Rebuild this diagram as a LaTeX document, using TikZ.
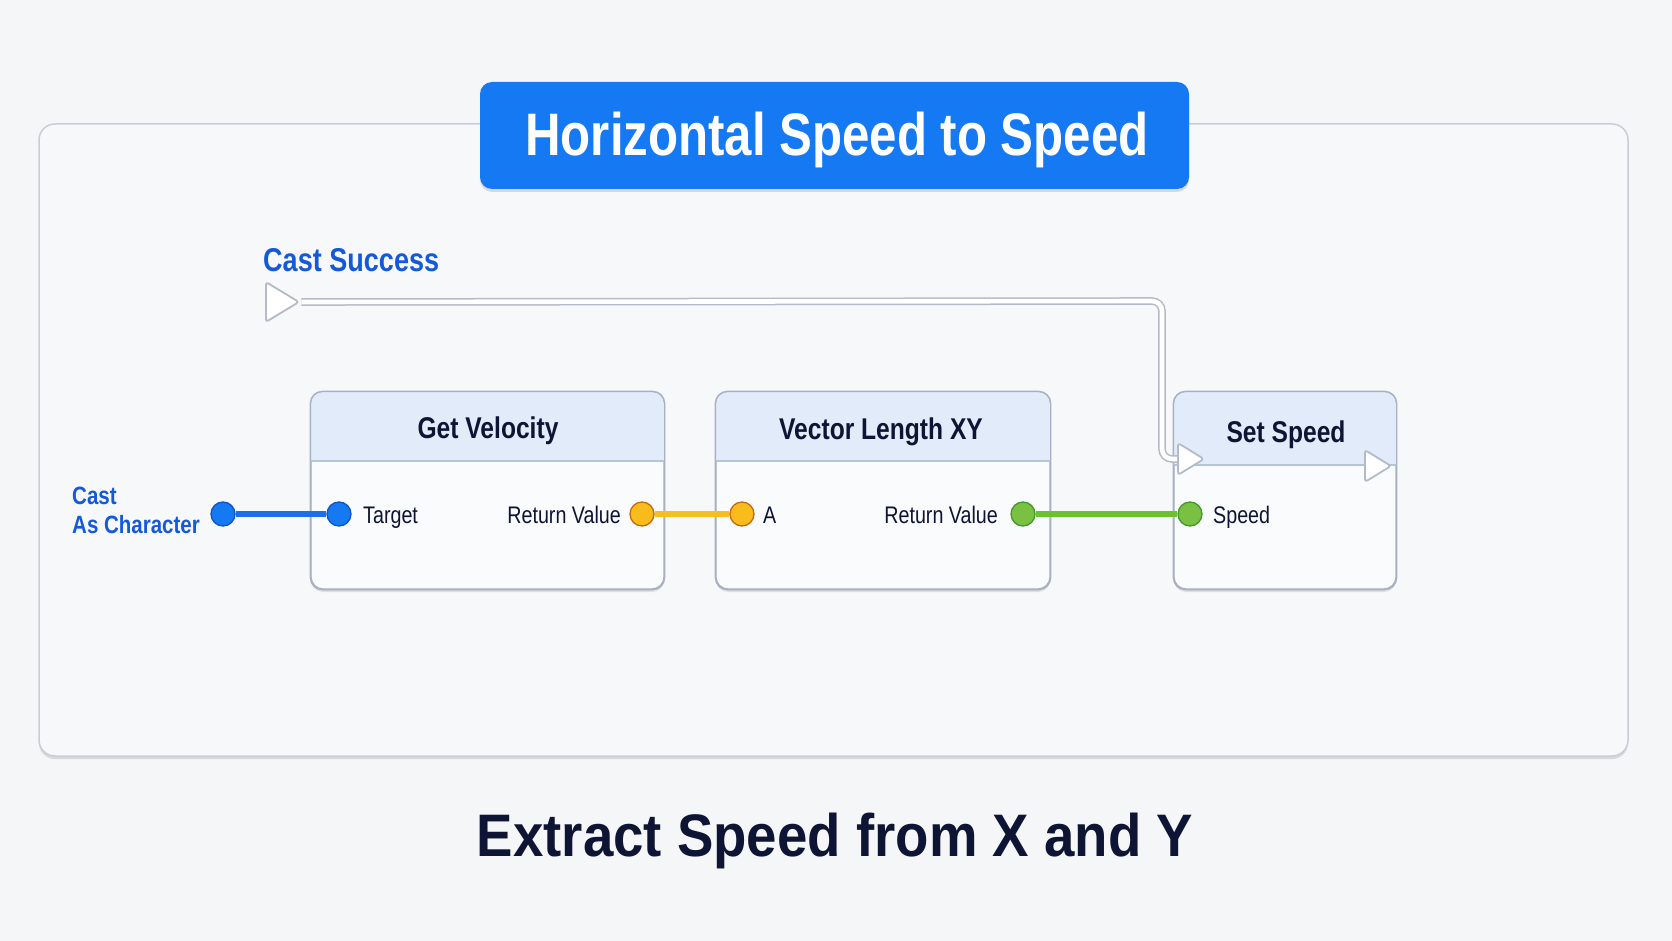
\documentclass[tikz,border=0pt]{standalone}
\usepackage{fontspec}
\setmainfont{Liberation Sans}[FakeStretch=0.82]
\newfontfamily\widefont{Liberation Sans}[FakeStretch=0.91]
\usetikzlibrary{shapes.geometric,shadows}
\definecolor{bgc}{HTML}{F5F6F8}
\definecolor{framefill}{HTML}{F7F8FA}
\definecolor{frameline}{HTML}{C9CDD6}
\definecolor{titleblue}{HTML}{1479F2}
\definecolor{labelblue}{HTML}{1559DB}
\definecolor{darktext}{HTML}{0E1433}
\definecolor{boxline}{HTML}{A7B1C2}
\definecolor{boxfill}{HTML}{FAFBFD}
\definecolor{hdrfill}{HTML}{E1EBFA}
\definecolor{sepline}{HTML}{B3C4DE}
\definecolor{bluepin}{HTML}{1479F2}
\definecolor{bluepinb}{HTML}{0E55C8}
\definecolor{bluewire}{HTML}{1C6FE6}
\definecolor{yelpin}{HTML}{F9BC1A}
\definecolor{yelpinb}{HTML}{C46A14}
\definecolor{yelwire}{HTML}{F7BE22}
\definecolor{grnpin}{HTML}{7AC143}
\definecolor{grnpinb}{HTML}{3F9A2B}
\definecolor{grnwire}{HTML}{6CC131}
\definecolor{execline}{HTML}{B4BAC7}
\pgfdeclarelayer{back}
\pgfdeclarelayer{wires}
\pgfsetlayers{back,wires,main}
\tikzset{
  softshadow/.style={drop shadow={shadow xshift=0pt, shadow yshift=-3pt, fill=black, opacity=0.10}},
  nodebox/.style={rectangle, rounded corners=12pt, fill=boxfill, draw=boxline, line width=1.3pt, softshadow, inner sep=0pt},
  boxoutline/.style={draw=boxline, line width=1.3pt, rounded corners=12pt},
  pinnode/.style={circle, minimum size=24pt, inner sep=0pt, line width=1.3pt},
  bpin/.style={pinnode, fill=bluepin, draw=bluepinb},
  ypin/.style={pinnode, fill=yelpin, draw=yelpinb},
  gpin/.style={pinnode, fill=grnpin, draw=grnpinb},
  wire/.style={line width=6pt},
  execwire/.style={draw=execline, double=white, double distance=4.6pt, line width=1.5pt, rounded corners=10pt},
  execpin/.style={isosceles triangle, isosceles triangle stretches, fill=white, draw=execline, line width=1.8pt, rounded corners=3pt, inner sep=0pt},
  hdrtext/.style={font=\fontsize{30}{34}\selectfont\bfseries, text=darktext, anchor=base, inner sep=0pt},
  pintext/.style={font=\fontsize{24}{28}\selectfont, text=darktext, inner sep=0pt},
}
\begin{document}
\begin{tikzpicture}[x=1pt,y=-1pt]
\useasboundingbox (0,0) rectangle (1672,941);
\begin{pgfonlayer}{back}
\fill[bgc] (0,0) rectangle (1672,941);
% outer frame
\node[rectangle, rounded corners=16pt, fill=framefill, draw=frameline, line width=1.5pt, minimum width=1589pt, minimum height=632pt, inner sep=0pt, drop shadow={shadow xshift=0pt, shadow yshift=-3pt, fill=black, opacity=0.12}] (frame) at (833.5,440) {};
% title
\node[rectangle, rounded corners=12pt, fill=titleblue, minimum width=709pt, minimum height=107pt, inner sep=0pt, drop shadow={shadow xshift=0pt, shadow yshift=-3pt, fill=black, opacity=0.12}] (titlebox) at (834.5,135.5) {};
% node boxes
\node[nodebox, minimum width=353pt, minimum height=197pt] (gv) at (487.5,490.5) {};
\node[nodebox, minimum width=334pt, minimum height=197pt] (vl) at (883,490.5) {};
\node[nodebox, minimum width=222pt, minimum height=197pt] (ss) at (1285,490.5) {};
\fill[hdrfill] (311,461) {[rounded corners=12pt] -- (311,392) -- (664,392)} -- (664,461) -- cycle;
\fill[hdrfill] (716,461) {[rounded corners=12pt] -- (716,392) -- (1050,392)} -- (1050,461) -- cycle;
\fill[hdrfill] (1174,465) {[rounded corners=12pt] -- (1174,392) -- (1396,392)} -- (1396,465) -- cycle;
\draw[sepline, line width=1.3pt] (311,461) -- (664,461);
\draw[sepline, line width=1.3pt] (716,461) -- (1050,461);
\draw[sepline, line width=1.3pt] (1174,465) -- (1396,465);
\draw[boxoutline] (gv.north west) rectangle (gv.south east);
\draw[boxoutline] (vl.north west) rectangle (vl.south east);
\draw[boxoutline] (ss.north west) rectangle (ss.south east);
\end{pgfonlayer}

\node[font=\fontsize{60}{66}\selectfont\bfseries, text=white, anchor=base, inner sep=0pt] (title) at (837,156) {Horizontal Speed to Speed};

% header texts
\node[hdrtext] (gvt) at (488,438) {Get Velocity};
\node[hdrtext] (vlt) at (881,439) {Vector Length XY};
\node[hdrtext] (sst) at (1286,442) {Set Speed};

% labels
\node[font=\fontsize{33}{36}\selectfont\bfseries, text=labelblue, anchor=base west, inner sep=0pt] (cslabel) at (263,272) {Cast Success};
\node[font=\fontsize{25}{29}\selectfont\bfseries, text=labelblue, anchor=base west, inner sep=0pt] (castl1) at (72,504) {Cast};
\node[font=\fontsize{25}{29}\selectfont\bfseries, text=labelblue, anchor=base west, inner sep=0pt] (castl2) at (72,533) {As Character};

% exec pins
\node[execpin, minimum width=40pt, minimum height=33pt, anchor=lower side] (csexec) at (265,302) {};
\node[execpin, minimum width=32pt, minimum height=26pt, anchor=lower side] (ssin) at (1177,459) {};
\node[execpin, minimum width=32pt, minimum height=26pt, anchor=lower side] (ssout) at (1364,466) {};
\coordinate (bend) at (1162,301);

% data pins
\node[bpin] (castpin) at (223,514) {};
\node[bpin] (targetpin) at (339,514) {};
\node[ypin] (gvret) at (642,514) {};
\node[ypin] (apin) at (742,514) {};
\node[gpin] (vlret) at (1023,514) {};
\node[gpin] (speedpin) at (1190,514) {};

% pin texts
\node[pintext, anchor=base west] (targett) at (363,523) {Target};
\node[pintext, anchor=base east] (gvrett) at (621,523) {Return Value};
\node[pintext, anchor=base west] (at) at (763,523) {A};
\node[pintext, anchor=base east] (vlrett) at (998,523) {Return Value};
\node[pintext, anchor=base west] (speedt) at (1213,523) {Speed};

% bottom caption
\node[font=\widefont\fontsize{60}{66}\selectfont\bfseries, text=darktext, anchor=base, inner sep=0pt] (caption) at (835,856) {Extract Speed from X and Y};

\begin{pgfonlayer}{wires}
\draw[wire, bluewire] (castpin) -- (targetpin);
\draw[wire, yelwire] (gvret) -- (apin);
\draw[wire, grnwire] (vlret) -- (speedpin);
\draw[execwire] (csexec.apex) -- (bend) |- (ssin.lower side);
\end{pgfonlayer}
\end{tikzpicture}
\end{document}
